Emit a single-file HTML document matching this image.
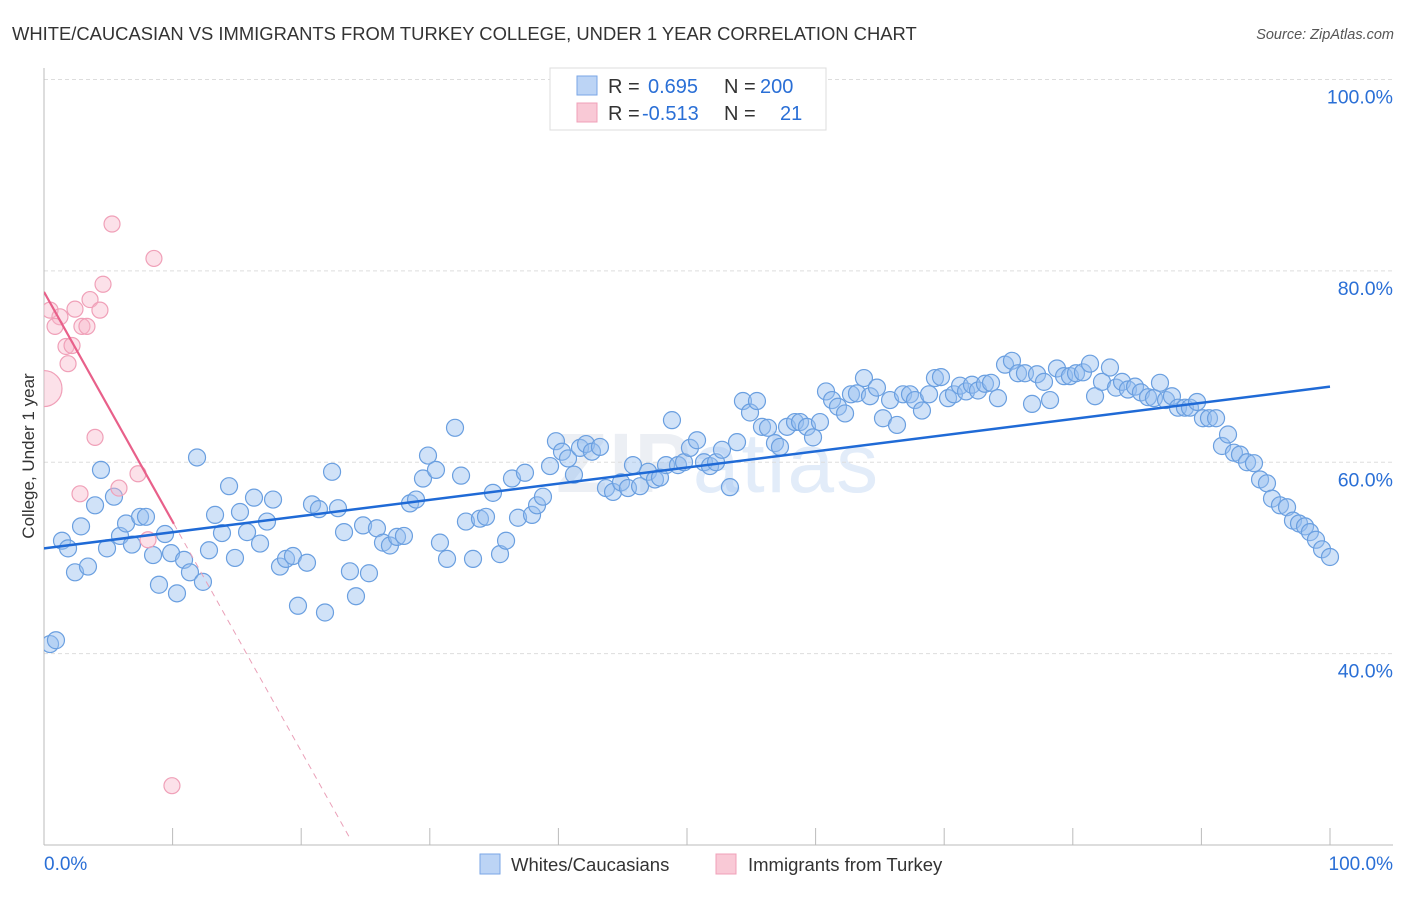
<!DOCTYPE html>
<html><head><meta charset="utf-8"><style>
body{margin:0;background:#fff;font-family:"Liberation Sans",sans-serif;}
svg text{font-family:"Liberation Sans",sans-serif;}
</style></head><body>
<svg id="chart" width="1406" height="892" xmlns="http://www.w3.org/2000/svg">
<defs><clipPath id="plotclip"><rect x="44" y="60" width="1360" height="785"/></clipPath></defs>
<text x="12" y="40" font-size="18.4" fill="#333">WHITE/CAUCASIAN VS IMMIGRANTS FROM TURKEY COLLEGE, UNDER 1 YEAR CORRELATION CHART</text>
<text x="1394" y="39" font-size="14.5" fill="#555" font-style="italic" text-anchor="end">Source: ZipAtlas.com</text>
<text x="556" y="492" font-size="84" fill="#eceff4" font-weight="bold" letter-spacing="2">ZIP<tspan fill="#e2ecf9" font-weight="normal">atlas</tspan></text>
<g id="grid"></g>
<g id="axes"></g>
<g id="marks" clip-path="url(#plotclip)"></g>
<text transform="translate(34,456) rotate(-90)" font-size="17" fill="#333" text-anchor="middle">College, Under 1 year</text>
<g>
<rect x="550" y="68" width="276" height="62" fill="#fff" stroke="#ddd"/>
<rect x="577" y="76" width="20" height="19" fill="#bcd4f5" stroke="#7aa6e6"/>
<rect x="577" y="103" width="20" height="19" fill="#f9c9d6" stroke="#f0a0b8"/>
<text x="608" y="93" font-size="20" fill="#333">R = <tspan fill="#2a6fd6" x="648">0.695</tspan><tspan x="724">N = </tspan><tspan fill="#2a6fd6" x="760">200</tspan></text>
<text x="608" y="120" font-size="20" fill="#333">R = <tspan fill="#2a6fd6" x="642">-0.513</tspan><tspan x="724">N = </tspan><tspan fill="#2a6fd6" x="780">21</tspan></text>
</g>
<g>
<rect x="480" y="854" width="20" height="20" fill="#bcd4f5" stroke="#7aa6e6"/>
<text x="511" y="871" font-size="18.5" fill="#333">Whites/Caucasians</text>
<rect x="716" y="854" width="20" height="20" fill="#f9c9d6" stroke="#f0a0b8"/>
<text x="748" y="871" font-size="18.5" fill="#333">Immigrants from Turkey</text>
</g>
</svg>
<script>
const yTicks=[40,60,80,100];
const yTickLabels=["40.0%","60.0%","80.0%","100.0%"];
const xTickLabels=["0.0%","100.0%"];
const blueX=[0.47,0.93,1.4,1.87,2.41,2.88,3.42,3.97,4.43,4.9,5.44,5.91,6.38,6.84,7.47,7.93,8.48,8.94,9.41,9.88,10.34,10.89,11.35,11.9,12.36,12.83,13.3,13.84,14.39,14.85,15.24,15.79,16.33,16.8,17.34,17.81,18.35,18.82,19.36,19.75,20.45,20.84,21.38,21.85,22.4,22.86,23.33,23.79,24.26,24.81,25.27,25.89,26.36,26.9,27.45,27.99,28.46,28.93,29.47,29.86,30.48,30.79,31.34,31.96,32.43,32.81,33.36,33.9,34.37,34.91,35.46,35.93,36.39,36.86,37.4,37.95,38.34,38.8,39.35,39.81,40.28,40.75,41.21,41.68,42.15,42.61,43.23,43.7,44.25,44.87,45.41,45.8,46.35,46.97,47.51,47.9,48.37,48.83,49.3,49.77,50.23,50.78,51.32,51.79,52.26,52.72,53.34,53.89,54.35,54.9,55.44,55.83,56.3,56.84,57.23,57.78,58.4,58.79,59.33,59.8,60.34,60.81,61.28,61.74,62.29,62.75,63.22,63.76,64.23,64.77,65.24,65.79,66.33,66.8,67.34,67.73,68.27,68.82,69.28,69.75,70.3,70.76,71.23,71.7,72.16,72.63,73.17,73.64,74.18,74.73,75.27,75.74,76.28,76.83,77.22,77.76,78.23,78.77,79.32,79.78,80.25,80.79,81.34,81.73,82.27,82.89,83.36,83.83,84.29,84.84,85.3,85.85,86.31,86.78,87.25,87.71,88.18,88.72,89.11,89.66,90.12,90.59,91.14,91.6,92.07,92.53,93.0,93.55,94.09,94.56,95.1,95.49,96.11,96.66,97.12,97.59,98.06,98.44,98.91,99.38,100];
const blueY=[41.0,41.4,51.8,51.0,48.5,53.3,49.1,55.5,59.2,51.0,56.4,52.3,53.6,51.4,54.3,54.3,50.3,47.2,52.5,50.5,46.3,49.8,48.5,60.5,47.5,50.8,54.5,52.6,57.5,50.0,54.8,52.7,56.3,51.5,53.8,56.1,49.1,49.9,50.2,45.0,49.5,55.6,55.1,44.3,59.0,55.2,52.7,48.6,46.0,53.4,48.4,53.1,51.6,51.3,52.2,52.3,55.7,56.1,58.3,60.7,59.2,51.6,49.9,63.6,58.6,53.8,49.9,54.1,54.3,56.8,50.4,51.8,58.3,54.2,58.9,54.5,55.5,56.4,59.6,62.2,61.1,60.4,58.7,61.5,61.9,61.1,61.6,57.3,56.9,57.9,57.3,59.7,57.5,59.0,58.2,58.4,59.7,64.4,59.7,60.0,61.5,62.3,60.0,59.6,60.0,61.3,57.4,62.1,66.4,65.2,66.4,63.7,63.6,62.0,61.6,63.7,64.2,64.2,63.7,62.6,64.2,67.4,66.5,65.8,65.1,67.1,67.2,68.8,66.9,67.8,64.6,66.5,63.9,67.1,67.1,66.5,65.4,67.1,68.8,68.9,66.7,67.1,68.0,67.4,68.1,67.5,68.2,68.3,66.7,70.2,70.6,69.3,69.3,66.1,69.2,68.4,66.5,69.8,69.0,69.0,69.3,69.4,70.3,66.9,68.4,69.9,67.8,68.4,67.6,67.9,67.3,66.8,66.7,68.3,66.5,66.9,65.7,65.7,65.7,66.3,64.6,64.6,64.6,61.7,62.9,61.0,60.8,60.0,59.9,58.2,57.8,56.2,55.5,55.3,53.9,53.6,53.3,52.7,51.9,50.9,50.1];
const pinkX=[5.29,8.55,4.59,0.47,1.24,3.58,2.41,4.35,0.86,2.95,3.34,1.71,2.18,1.87,3.97,7.31,2.8,5.83,8.09,9.95,0];
const pinkY=[84.9,81.3,78.6,75.9,75.2,77.0,76.0,75.9,74.2,74.2,74.2,72.1,72.2,70.3,62.6,58.8,56.7,57.3,51.9,26.2,67.7];
const pinkR=[8,8,8,8,8,8,8,8,8,8,8,8,8,8,8,8,8,8,8,8,18];
const blueTrend=[51.0,67.9];
const pinkTrend=[77.8,-2.4];
const pinkSolidEnd=10.1, pinkDashEnd=23.8;

const NS="http://www.w3.org/2000/svg";
const X0=44,X1=1330,YB=845,YT=79.5;
const sx=v=>X0+(X1-X0)*v/100;
const sy=v=>YB-(YB-YT)*(v-20)/80;
function mk(tag,attrs,parent){const e=document.createElementNS(NS,tag);for(const k in attrs)e.setAttribute(k,attrs[k]);parent.appendChild(e);return e;}
const grid=document.getElementById('grid'),axes=document.getElementById('axes'),marks=document.getElementById('marks');
yTicks.forEach((t,i)=>{
  const l=mk('line',{x1:X0,x2:1393,y1:sy(t),y2:sy(t),stroke:'#ddd','stroke-dasharray':'4,3'},grid);
  
  
  const tx=mk('text',{x:1393,y:sy(t)+24,'font-size':19.5,fill:'#2a6fd6','text-anchor':'end'},axes);
  tx.textContent=yTickLabels[i];
  
  
});
const ya=mk('line',{x1:X0,x2:X0,y1:68,y2:YB,stroke:'#bbb'},axes);


const xa=mk('line',{x1:X0,x2:1393,y1:YB,y2:YB,stroke:'#bbb'},axes);


for(let i=1;i<=10;i++){
  const t=mk('line',{x1:sx(i*10),x2:sx(i*10),y1:828,y2:YB,stroke:'#bbb'},axes);
  
  
}
[[0,'start',X0],[100,'end',1393]].forEach((d,i)=>{
  const tx=mk('text',{x:d[2],y:870,'font-size':19,fill:'#2a6fd6','text-anchor':d[1]},axes);
  tx.textContent=xTickLabels[i];
  
  
});
blueX.forEach((v,i)=>{
  const c=mk('circle',{cx:sx(v),cy:sy(blueY[i]),r:8.5,fill:'rgba(150,190,240,0.45)',stroke:'#6a9fe0','stroke-width':1.2},marks);
  
  
});
pinkX.forEach((v,i)=>{
  const c=mk('circle',{cx:sx(v),cy:sy(pinkY[i]),r:pinkR[i],fill:'rgba(247,180,200,0.4)',stroke:'#f0a0b8','stroke-width':1.2},marks);
  
  
});
const bt=mk('line',{x1:sx(0),y1:sy(blueTrend[0]),x2:sx(100),y2:sy(blueTrend[1]),stroke:'#1f6ad6','stroke-width':2.5},marks);


const pf=x=>pinkTrend[0]+pinkTrend[1]*x;
const ps=mk('line',{x1:sx(0),y1:sy(pf(0)),x2:sx(pinkSolidEnd),y2:sy(pf(pinkSolidEnd)),stroke:'#e8608a','stroke-width':2.2},marks);


const pd=mk('line',{x1:sx(pinkSolidEnd),y1:sy(pf(pinkSolidEnd)),x2:sx(pinkDashEnd),y2:sy(pf(pinkDashEnd)),stroke:'#eaa0b8','stroke-width':1,'stroke-dasharray':'6,5'},marks);


</script>
</body></html>
